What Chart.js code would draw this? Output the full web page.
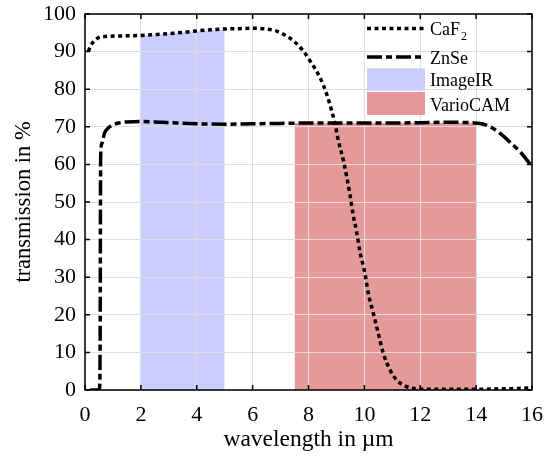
<!DOCTYPE html>
<html><head><meta charset="utf-8">
<script src="https://cdn.jsdelivr.net/npm/chart.js@4.4.1/dist/chart.umd.min.js"></script>
<style>html,body{margin:0;padding:0;background:#fff}canvas{display:block}</style>
</head><body><canvas id="c" width="548" height="456"></canvas>
<script>
// ---- data ----
const caf2X = [0.12,0.2,0.3,0.4,0.5,0.7,0.9,1.5,2.0,2.5,3.0,3.5,4.0,4.5,5.0,5.5,6.0,6.5,6.8,7.1,7.46,7.81,8.05,8.41,8.65,8.83,8.95,9.07,9.25,9.48,9.6,9.72,9.84,10.02,10.14,10.32,10.5,10.68,10.92,11.15,11.51,11.87,12.5,13,14,15,15.5,16];
const caf2Y = [90,91.5,92.6,93.3,93.8,94.0,94.1,94.2,94.3,94.5,94.8,95.1,95.5,95.8,96.0,96.1,96.2,96.0,95.6,94.6,92.9,90.2,87.6,83.1,78.7,74.3,70.7,66.3,61,52.2,46.5,42.1,36.8,31,25.7,20.4,15,9.7,5.3,2.7,0.9,0.3,0.2,0.2,0.2,0.3,0.4,0.6];
const znseX = [0.18,0.45,0.52,0.54,0.56,0.6,0.7,0.85,1.0,1.2,1.5,2.0,2.5,3,4,5,6,7,8,9,10,11,12,13,13.8,14.2,14.5,14.85,15.2,15.57,15.87,16];
const znseY = [0,0,0.5,10,62,65.5,68.3,69.8,70.5,71.0,71.3,71.4,71.3,71.1,70.8,70.7,70.8,70.9,71.0,71.0,71.0,71.0,71.1,71.2,71.1,70.8,70.0,68.3,66,63.4,60.7,59.6];
const imageIRX = [2,3,4,5];
const imageIRY = [94.2,94.8,95.5,95.8];
const varioX = [7.5,10,12,14];
const varioY = [71,71,71.1,71.1];
const seriesNames = ['CaF\u2082','ZnSe','ImageIR','VarioCAM'];
const xTicks = [0,2,4,6,8,10,12,14,16];
const yTicks = [0,10,20,30,40,50,60,70,80,90,100];

const FONT = '"Liberation Serif","Times New Roman",Times,serif';
const pts = (xs, ys) => xs.map((x, i) => ({x, y: ys[i]}));

const legendPlugin = {
  id: 'customLegend',
  afterDraw(chart) {
    const ctx = chart.ctx;
    const ds = chart.data.datasets;
    const sx0 = 367, sx1 = 425, tx = 430;
    const lineY = [28.5, 57, 0, 0];
    const rectY = [0, 0, [68.3, 90.7], [92, 115]];
    const baseY = [35, 63.5, 86, 111];
    ctx.save();
    ds.forEach((d, i) => {
      if (d.fill) {
        ctx.fillStyle = d.backgroundColor;
        ctx.fillRect(sx0, rectY[i][0], sx1 - sx0, rectY[i][1] - rectY[i][0]);
      } else {
        ctx.strokeStyle = d.borderColor;
        ctx.lineWidth = d.borderWidth;
        ctx.setLineDash(d.borderDash || []);
        ctx.lineCap = 'butt';
        ctx.beginPath();
        ctx.moveTo(sx0, lineY[i]); ctx.lineTo(sx1, lineY[i]);
        ctx.stroke();
        ctx.setLineDash([]);
      }
      ctx.fillStyle = '#000';
      ctx.textBaseline = 'alphabetic';
      ctx.textAlign = 'left';
      ctx.font = '18px ' + FONT;
      const lbl = d.label;
      if (lbl.indexOf('\u2082') >= 0) {
        const base = lbl.replace('\u2082', '');
        ctx.fillText(base, tx, baseY[i]);
        const w = ctx.measureText(base).width;
        ctx.font = '12px ' + FONT;
        ctx.fillText('2', tx + w + 1, baseY[i] + 5);
      } else {
        ctx.fillText(lbl, tx, baseY[i]);
      }
    });
    ctx.restore();
  }
};

const framePlugin = {
  id: 'frame',
  afterDatasetsDraw(chart) {
    const {ctx, chartArea: a, scales: {x, y}} = chart;
    ctx.save();
    ctx.strokeStyle = '#000';
    ctx.lineWidth = 1.5;
    ctx.beginPath();
    x.ticks.forEach(t => {
      const p = x.getPixelForValue(t.value);
      ctx.moveTo(p, a.bottom); ctx.lineTo(p, a.bottom - 5);
      ctx.moveTo(p, a.top); ctx.lineTo(p, a.top + 5);
    });
    y.ticks.forEach(t => {
      const p = y.getPixelForValue(t.value);
      ctx.moveTo(a.left, p); ctx.lineTo(a.left + 5, p);
      ctx.moveTo(a.right, p); ctx.lineTo(a.right - 5, p);
    });
    ctx.stroke();
    ctx.strokeRect(a.left, a.top, a.right - a.left, a.bottom - a.top);
    ctx.restore();
  }
};

new Chart(document.getElementById('c'), {
  type: 'line',
  data: {
    datasets: [
      { label: seriesNames[0], data: pts(caf2X, caf2Y), borderColor: '#000', borderWidth: 3.5,
        borderDash: [4, 3.5], pointRadius: 0, fill: false, cubicInterpolationMode: 'monotone', order: 0 },
      { label: seriesNames[1], data: pts(znseX, znseY), borderColor: '#000', borderWidth: 3.5,
        borderDash: [15, 4, 6, 4], pointRadius: 0, fill: false, cubicInterpolationMode: 'monotone', order: 1 },
      { label: seriesNames[2], data: pts(imageIRX, imageIRY), borderWidth: 0, borderColor: 'rgba(0,0,0,0)',
        backgroundColor: '#ccccff', pointRadius: 0, fill: 'origin', order: 2 },
      { label: seriesNames[3], data: pts(varioX, varioY), borderWidth: 0, borderColor: 'rgba(0,0,0,0)',
        backgroundColor: '#e59999', pointRadius: 0, fill: 'origin', order: 3 }
    ]
  },
  options: {
    responsive: false,
    animation: false,
    devicePixelRatio: 1,
    layout: { padding: { top: 14, right: 16, left: 0, bottom: 0 } },
    plugins: {
      legend: { display: false },
      tooltip: { enabled: false },
      filler: { drawTime: 'beforeDraw', propagate: false }
    },
    scales: {
      x: {
        type: 'linear', min: 0, max: 16,
        afterBuildTicks: s => { s.ticks = xTicks.map(v => ({value: v})); },
        afterFit: s => { s.height = 66; s.paddingLeft = 0; s.paddingRight = 0; },
        ticks: { font: { family: FONT, size: 22 }, color: '#000', padding: 12, maxRotation: 0 },
        grid: { color: '#dedede', lineWidth: 1, drawTicks: false },
        border: { display: false },
        title: { display: true, text: 'wavelength in \u00b5m', font: { family: FONT, size: 23.5 }, color: '#000',
          padding: { top: 0, bottom: 2 } }
      },
      y: {
        type: 'linear', min: 0, max: 100,
        afterBuildTicks: s => { s.ticks = yTicks.map(v => ({value: v})); },
        afterFit: s => { s.width = 85; s.paddingTop = 0; s.paddingBottom = 0; },
        ticks: { font: { family: FONT, size: 22 }, color: '#000', padding: 9 },
        grid: { color: '#dedede', lineWidth: 1, drawTicks: false },
        border: { display: false },
        title: { display: true, text: 'transmission in %', font: { family: FONT, size: 22.5 }, color: '#000',
          padding: { top: 11, bottom: 0 } }
      }
    }
  },
  plugins: [framePlugin, legendPlugin]
});
</script>
</body></html>
